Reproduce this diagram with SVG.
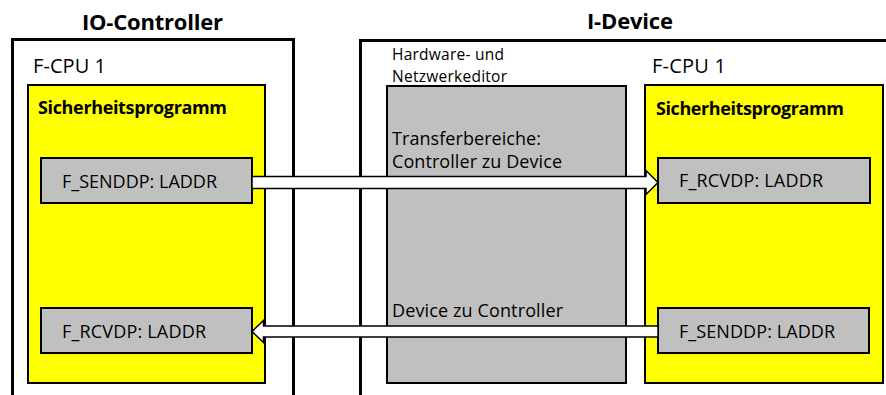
<svg xmlns="http://www.w3.org/2000/svg" width="886" height="395" viewBox="0 0 886 395">
<style>
.t{font-family:"Open Sans","Liberation Sans",Arial,sans-serif;fill:#000}
.b{font-weight:bold}
.outer{fill:none;stroke:#000;stroke-width:3}
.yel{fill:#FFFF00;stroke:#000;stroke-width:2}
.gray{fill:#C0C0C0;stroke:#000;stroke-width:2}
.arr{fill:#FFFFFF;stroke:#000;stroke-width:1.5;stroke-linejoin:miter}
</style>
<rect width="886" height="395" fill="#fff"/>
<text class="t b" x="82" y="30" font-size="22" textLength="141">IO-Controller</text>
<text class="t b" x="587" y="29" font-size="22" textLength="86">I-Device</text>

<g id="io-controller">
<path class="outer" d="M12.5,400 V39.5 H293.5 V400"/>
<text class="t" x="33" y="73" font-size="20" textLength="73">F-CPU 1</text>
</g>
<g id="i-device">
<path class="outer" d="M360.5,400 V40.5 H890"/>
<text class="t" x="652" y="73" font-size="20" textLength="74">F-CPU 1</text>
</g>
<g id="hw-editor">
<text class="t" x="392" y="60" font-size="15.5" textLength="112">Hardware- und</text>
<text class="t" x="392" y="82" font-size="15.5" textLength="115">Netzwerkeditor</text>
<rect class="gray" x="387" y="86" width="239" height="297"/>
<text class="t" x="392" y="145" font-size="18" textLength="149">Transferbereiche:</text>
<text class="t" x="392" y="168" font-size="18" textLength="170">Controller zu Device</text>
<text class="t" x="392" y="317" font-size="18" textLength="171">Device zu Controller</text>
</g>
<g id="safety-left">
<rect class="yel" x="28" y="85" width="237" height="298"/>
<text class="t b" x="38" y="114" font-size="18" textLength="189">Sicherheitsprogramm</text>
</g>
<g id="safety-right">
<rect class="yel" x="645" y="85" width="238" height="298"/>
<text class="t b" x="656" y="115" font-size="18" textLength="188">Sicherheitsprogramm</text>
</g>
<g id="send-left">
<rect class="gray" x="41" y="158" width="211" height="45"/>
<text class="t" x="62" y="188" font-size="18" textLength="155">F_SENDDP: LADDR</text>
</g>
<g id="rcv-left">
<rect class="gray" x="41" y="308" width="211" height="45"/>
<text class="t" x="62" y="338" font-size="18" textLength="144">F_RCVDP: LADDR</text>
</g>
<g id="rcv-right">
<rect class="gray" x="658" y="158" width="212" height="45"/>
<text class="t" x="679" y="187" font-size="18" textLength="144">F_RCVDP: LADDR</text>
</g>
<g id="send-right">
<rect class="gray" x="658" y="308" width="211" height="45"/>
<text class="t" x="679" y="338" font-size="18" textLength="156">F_SENDDP: LADDR</text>
</g>
<g id="connectors">
<path class="arr" d="M252,176.5 H646 V170.5 L658,182.5 L646,194.5 V188.5 H252 Z"/>
<path class="arr" d="M658,326 H263.5 V320.5 L252,331.5 L263.5,342.5 V337 H658 Z"/>
</g>
</svg>
